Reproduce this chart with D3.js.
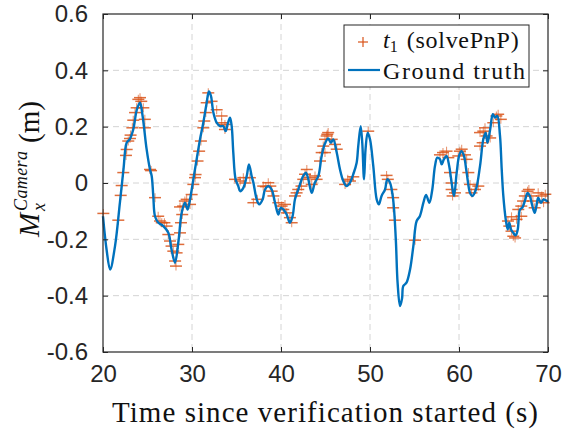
<!DOCTYPE html>
<html>
<head>
<meta charset="utf-8">
<script src="https://cdn.jsdelivr.net/npm/d3@7"></script>
<style>
  body { margin: 0; background: #fff; }
  svg { display: block; }
</style>
</head>
<body>
<svg id="chart"></svg>
<script>
// ground truth
const gtT = [20.0,20.4,20.8,21.35,21.9,22.3,22.66,23.0,23.4,23.8,24.16,24.45,24.9,25.28,25.47,25.65,25.84,26.2,26.78,27.34,27.7,28.09,28.46,28.84,29.2,29.5,29.78,30.15,30.52,30.9,31.27,31.65,31.9,32.13,32.4,32.77,33.15,33.5,33.78,34.0,34.27,34.46,34.64,34.9,35.2,35.4,35.77,36.15,36.4,36.7,36.9,37.27,37.56,37.94,38.2,38.57,38.95,39.33,39.7,39.97,40.26,40.64,41.0,41.3,41.57,41.94,42.5,42.8,43.07,43.45,43.8,44.2,44.57,44.94,45.3,45.6,45.87,46.26,46.63,47.0,47.37,47.75,48.12,48.5,48.68,48.95,49.13,49.33,49.5,49.74,50.0,50.37,50.75,51.0,51.3,51.69,51.94,52.25,52.6,52.9,53.1,53.37,53.6,53.74,54.1,54.5,54.87,55.24,55.6,56.0,56.3,56.67,57.0,57.3,57.56,57.86,58.05,58.3,58.6,58.9,59.17,59.44,59.74,60.04,60.3,60.56,60.86,61.24,61.5,61.9,62.36,62.73,63.0,63.2,63.5,63.8,64.04,64.3,64.6,64.8,64.98,65.25,65.47,65.65,65.84,66.1,66.37,66.6,66.85,67.1,67.4,67.7,67.96,68.2,68.5,68.7,68.9,69.2,69.5,69.9,70.0];
const gtY = [-0.118,-0.236,-0.307,-0.224,-0.07,0.048,0.143,0.155,0.19,0.26,0.285,0.238,0.12,0.048,0.025,-0.046,-0.118,-0.14,-0.153,-0.177,-0.236,-0.283,-0.212,-0.106,-0.07,-0.094,-0.058,0.013,0.084,0.155,0.214,0.285,0.325,0.309,0.25,0.214,0.202,0.202,0.184,0.208,0.232,0.202,0.108,0.013,-0.011,-0.029,-0.017,0.025,0.066,0.025,0.001,-0.058,-0.076,-0.058,-0.023,-0.011,-0.023,-0.07,-0.112,-0.088,-0.094,-0.112,-0.141,-0.118,-0.058,-0.023,0.025,0.037,0.013,-0.035,0.001,0.025,0.096,0.14,0.158,0.143,0.155,0.108,0.048,0.007,-0.011,0.001,0.031,0.072,0.131,0.202,0.143,0.013,0.12,0.179,0.155,0.06,-0.058,-0.076,-0.046,-0.023,0.013,0.001,-0.058,-0.2,-0.354,-0.437,-0.41,-0.366,-0.354,-0.307,-0.224,-0.135,-0.118,-0.07,-0.042,-0.07,-0.023,0.06,0.09,0.084,0.066,0.084,0.096,0.06,0.001,-0.046,0.037,0.1,0.113,0.096,0.037,-0.035,-0.046,-0.023,0.06,0.155,0.179,0.143,0.19,0.244,0.232,0.238,0.17,0.048,-0.046,-0.129,-0.165,-0.141,-0.165,-0.177,-0.186,-0.165,-0.094,-0.088,-0.064,-0.035,-0.046,-0.076,-0.106,-0.082,-0.052,-0.07,-0.058,-0.064,-0.062];

// t1 (solvePnP) estimates
const pnpT = [20.04,21.72,21.99,22.1,22.28,22.58,22.66,22.84,23.03,23.1,23.3,23.4,23.6,23.78,23.97,24.16,24.3,24.53,24.7,24.7,25.28,25.4,25.84,26.2,26.4,26.6,26.9,27.15,27.34,27.53,27.7,27.9,28.1,28.2,28.27,28.46,28.65,28.65,28.76,28.9,29.0,29.2,29.4,29.78,29.96,30.15,30.34,30.4,30.62,30.8,31.0,31.27,31.38,31.55,31.65,31.83,32.2,32.77,33.33,33.33,33.7,33.7,34.83,35.4,35.77,36.0,36.5,36.9,37.34,38.0,38.3,38.57,38.8,38.95,39.15,39.7,40.07,40.26,40.45,40.64,41.0,41.2,41.57,41.75,41.94,42.3,42.5,42.7,42.9,43.26,43.45,43.82,44.0,44.38,44.57,44.75,44.94,44.94,45.13,45.2,45.3,45.7,46.07,46.26,47.2,47.5,47.75,48.12,49.8,51.86,52.0,52.4,52.6,52.6,52.8,55.06,57.86,58.2,58.6,58.8,58.99,59.17,59.17,59.28,59.55,59.92,60.1,60.3,60.67,60.86,61.05,61.24,61.4,61.8,62.17,62.36,62.36,62.66,62.73,62.92,63.1,63.5,63.85,64.2,64.4,64.7,65.5,65.65,65.9,65.9,66.1,66.3,66.47,66.66,67.0,67.0,67.2,67.4,67.7,67.85,68.1,68.3,68.5,68.9,69.3,69.5,69.7];
const pnpY = [-0.108,-0.132,-0.044,-0.009,0.037,0.098,0.119,0.149,0.158,0.17,0.196,0.223,0.25,0.267,0.297,0.303,0.29,0.267,0.226,0.196,0.048,0.044,-0.052,-0.118,-0.135,-0.141,-0.141,-0.153,-0.183,-0.206,-0.224,-0.242,-0.277,-0.295,-0.248,-0.218,-0.177,-0.085,-0.141,-0.112,-0.082,-0.064,-0.058,-0.076,-0.041,-0.005,0.019,0.03,0.078,0.113,0.149,0.196,0.22,0.25,0.285,0.32,0.29,0.26,0.238,0.214,0.208,0.19,0.013,0.007,0.019,0.0,0.019,-0.07,-0.058,-0.011,-0.013,0.001,-0.011,-0.029,-0.046,-0.07,-0.082,-0.094,-0.076,-0.106,-0.123,-0.141,-0.046,-0.035,-0.023,-0.011,0.013,0.031,0.048,0.019,-0.005,0.025,0.013,0.078,0.108,0.131,0.155,0.108,0.167,0.173,0.179,0.155,0.137,0.12,-0.005,0.013,0.007,0.022,0.184,0.027,0.013,-0.023,-0.052,-0.088,-0.132,-0.203,0.1,0.108,0.113,0.09,0.037,0.0,-0.023,-0.046,-0.035,0.096,0.113,0.12,0.1,0.084,0.037,-0.005,-0.035,-0.023,-0.011,0.131,0.179,0.143,0.184,0.196,0.167,0.16,0.214,0.238,0.244,0.226,-0.135,-0.153,-0.171,-0.12,-0.189,-0.195,-0.129,-0.094,-0.082,-0.118,-0.064,-0.046,-0.029,-0.023,-0.046,-0.064,-0.088,-0.035,-0.046,-0.07,-0.04];

const xTicks = [20, 30, 40, 50, 60, 70];
const yTicks = [-0.6, -0.4, -0.2, 0, 0.2, 0.4, 0.6];

const W = 564, H = 433;
const margin = {top: 14, right: 16, bottom: 81, left: 103};
const width = W - margin.left - margin.right,
      height = H - margin.top - margin.bottom;

const blue = "#0072BD", orange = "#D95319", ink = "#262626";
const tickFont = "'Liberation Sans', Arial, sans-serif";
const texFont = "'Liberation Serif', 'Times New Roman', serif";

const svg = d3.select("#chart").attr("width", W).attr("height", H);
const g = svg.append("g").attr("transform", `translate(${margin.left},${margin.top})`);

const x = d3.scaleLinear().domain([20, 70]).range([0, width]);
const y = d3.scaleLinear().domain([-0.6, 0.6]).range([height, 0]);

// grid
g.append("g").selectAll("line").data(xTicks.slice(1, -1)).join("line")
  .attr("x1", d => x(d)).attr("x2", d => x(d))
  .attr("y1", 0).attr("y2", height)
  .attr("stroke", "#d4d4d4").attr("stroke-width", 1).attr("stroke-dasharray", "6,4");
g.append("g").selectAll("line").data(yTicks.slice(1, -1)).join("line")
  .attr("y1", d => y(d)).attr("y2", d => y(d))
  .attr("x1", 0).attr("x2", width)
  .attr("stroke", "#d4d4d4").attr("stroke-width", 1).attr("stroke-dasharray", "6,4");

// solvePnP markers
const pnp = pnpT.map((t, i) => ({t, v: pnpY[i]}));
const mk = g.append("g").selectAll("g").data(pnp).join("g")
  .attr("transform", d => `translate(${x(d.t)},${y(d.v)})`);
mk.append("line").attr("x1", -6).attr("x2", 6)
  .attr("stroke", orange).attr("stroke-width", 1.5).attr("stroke-opacity", 0.85);
mk.append("line").attr("y1", -4.5).attr("y2", 4.5)
  .attr("stroke", orange).attr("stroke-width", 1.1).attr("stroke-opacity", 0.6);

// ground truth line
const gt = gtT.map((t, i) => ({t, v: gtY[i]}));
g.append("path").datum(gt)
  .attr("fill", "none").attr("stroke", blue).attr("stroke-width", 2.4)
  .attr("stroke-linejoin", "round")
  .attr("d", d3.line().x(d => x(d.t)).y(d => y(d.v)).curve(d3.curveCatmullRom.alpha(0.5)));

// axes (ticks inside, box on all sides)
const fmt = d => d === 0 ? "0" : d.toFixed(1);
const styleAxis = sel => {
  sel.select(".domain").remove();
  sel.selectAll(".tick line").attr("stroke", ink);
  sel.selectAll(".tick text").attr("fill", ink)
    .style("font-family", tickFont).style("font-size", "24px");
};
g.append("g").attr("transform", `translate(0,${height})`)
  .call(d3.axisBottom(x).tickValues(xTicks).tickSizeInner(-5).tickSizeOuter(0).tickPadding(13).tickFormat(d3.format("d")))
  .call(styleAxis);
g.append("g")
  .call(d3.axisLeft(y).tickValues(yTicks).tickSizeInner(-5).tickSizeOuter(0).tickPadding(15).tickFormat(fmt))
  .call(styleAxis);
g.append("g")
  .call(d3.axisTop(x).tickValues(xTicks).tickSizeInner(-5).tickSizeOuter(0).tickFormat(""))
  .call(styleAxis);
g.append("g").attr("transform", `translate(${width},0)`)
  .call(d3.axisRight(y).tickValues(yTicks).tickSizeInner(-5).tickSizeOuter(0).tickFormat(""))
  .call(styleAxis);
g.append("rect").attr("width", width).attr("height", height)
  .attr("fill", "none").attr("stroke", ink).attr("stroke-width", 1.2);

// x label
svg.append("text")
  .attr("x", 325).attr("y", 422).attr("text-anchor", "middle")
  .attr("textLength", 426)
  .style("font-family", texFont).style("font-size", "29px").attr("fill", "#111")
  .text("Time since verification started (s)");

// y label: M_x^{Camera} (m)
const yl = svg.append("g").attr("transform", "translate(39,237) rotate(-90)")
  .style("font-family", texFont).attr("fill", "#111");
yl.append("text").attr("x", 0).attr("y", 0)
  .style("font-size", "29px").style("font-style", "italic").text("M");
yl.append("text").attr("x", 26).attr("y", 6)
  .style("font-size", "18px").style("font-style", "italic").text("x");
yl.append("text").attr("x", 26).attr("y", -12).attr("textLength", 60)
  .style("font-size", "18px").style("font-style", "italic").text("Camera");
yl.append("text").attr("x", 94).attr("y", 0)
  .style("font-size", "29px").text("(m)");

// legend
const lg = svg.append("g").attr("transform", "translate(344,25)");
lg.append("rect").attr("width", 185).attr("height", 62)
  .attr("fill", "#fff").attr("stroke", ink).attr("stroke-width", 1);
lg.append("line").attr("x1", 14).attr("x2", 24).attr("y1", 17).attr("y2", 17)
  .attr("stroke", orange).attr("stroke-width", 1.2);
lg.append("line").attr("x1", 19).attr("x2", 19).attr("y1", 12).attr("y2", 22)
  .attr("stroke", orange).attr("stroke-width", 1.2);
const t1 = lg.append("text").attr("x", 39).attr("y", 23)
  .style("font-family", texFont).style("font-size", "24px").attr("fill", "#111");
t1.append("tspan").style("font-style", "italic").text("t");
t1.append("tspan").attr("dy", 4).style("font-size", "16px").text("1");
t1.append("tspan").attr("dy", -4).attr("dx", 9).attr("textLength", 112).text("(solvePnP)");
lg.append("line").attr("x1", 4).attr("x2", 36).attr("y1", 45).attr("y2", 45)
  .attr("stroke", blue).attr("stroke-width", 2.2);
lg.append("text").attr("x", 39).attr("y", 54).attr("textLength", 142)
  .style("font-family", texFont).style("font-size", "24px").attr("fill", "#111")
  .text("Ground truth");
</script>
</body>
</html>
